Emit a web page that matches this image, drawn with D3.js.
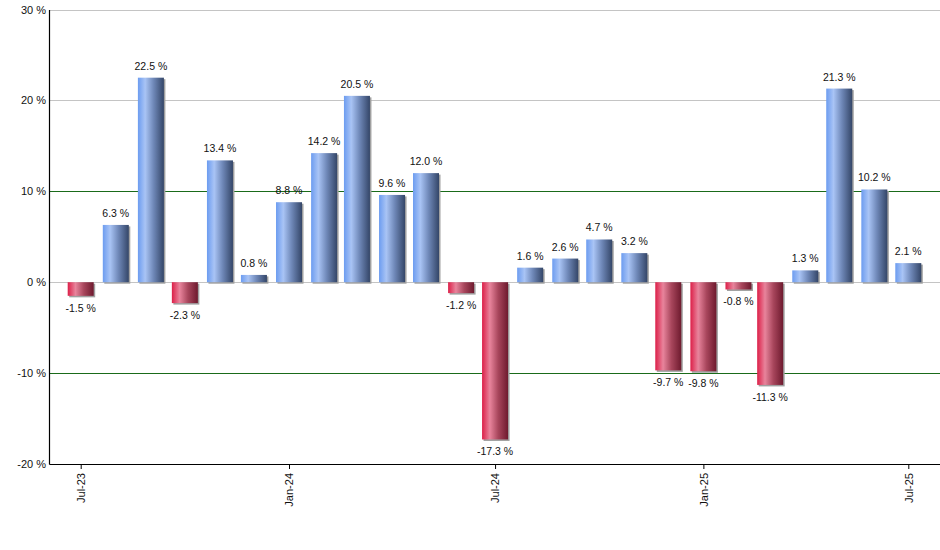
<!DOCTYPE html>
<html>
<head>
<meta charset="utf-8">
<script src="https://cdn.jsdelivr.net/npm/d3@7"></script>
<style>
  html, body { margin: 0; padding: 0; background: #fff; }
  svg { display: block; font-family: Arial, "Liberation Sans", sans-serif; }
</style>
</head>
<body>
<svg id="chart" width="940" height="550"></svg>
<script>
// ---- data ----
const months = ["2023-07","2023-08","2023-09","2023-10","2023-11","2023-12",
                "2024-01","2024-02","2024-03","2024-04","2024-05","2024-06",
                "2024-07","2024-08","2024-09","2024-10","2024-11","2024-12",
                "2025-01","2025-02","2025-03","2025-04","2025-05","2025-06","2025-07"];
const values = [-1.5, 6.3, 22.5, -2.3, 13.4, 0.8,
                8.8, 14.2, 20.5, 9.6, 12.0, -1.2,
                -17.3, 1.6, 2.6, 4.7, 3.2, -9.7,
                -9.8, -0.8, -11.3, 1.3, 21.3, 10.2, 2.1];
const xTickDates = ["2023-07","2024-01","2024-07","2025-01","2025-07"];
const xTickLabels = ["Jul-23","Jan-24","Jul-24","Jan-25","Jul-25"];
const yTicks = [-20, -10, 0, 10, 20, 30];

// ---- layout ----
const svg = d3.select("#chart");
const mLeft = 49, mRight = 940, mTop = 9.5, mBottom = 464;
const parse = d3.timeParse("%Y-%m");
const dates = months.map(parse);
const data = dates.map((d, i) => ({date: d, value: values[i]}));

const x = d3.scaleTime()
  .domain([d3.timeDay.offset(dates[0], -28), d3.timeDay.offset(dates[dates.length - 1], 28)])
  .range([mLeft, mRight]);
const y = d3.scaleLinear().domain([-20, 30]).range([mBottom, mTop]);

// ---- gradients ----
const defs = svg.append("defs");
function grad(id, stops) {
  const g = defs.append("linearGradient").attr("id", id)
    .attr("x1", "0").attr("x2", "1").attr("y1", "0").attr("y2", "0");
  stops.forEach(s => g.append("stop").attr("offset", s[0]).attr("stop-color", s[1]));
}
grad("gBlue", [[0, "#6c9cf0"], [0.28, "#a9c4f5"], [0.6, "#6f88b8"], [1, "#344668"]]);
grad("gRed", [[0, "#dc1f48"], [0.3, "#e8849c"], [0.62, "#a8465c"], [1, "#6e1a2e"]]);

// ---- grid lines ----
const gridColor = v => (v === 10 || v === -10) ? "#1a6b1a" : "#c4c4c4";
svg.append("g").selectAll("line")
  .data(yTicks.filter(v => v !== -20))
  .join("line")
  .attr("x1", mLeft).attr("x2", mRight)
  .attr("y1", d => Math.round(y(d)) + 0.5).attr("y2", d => Math.round(y(d)) + 0.5)
  .attr("stroke", gridColor).attr("stroke-width", 1);

// ---- bars ----
const bw = 26;
const bars = svg.append("g");
bars.selectAll("rect.shadow").data(data).join("rect")
  .attr("class", "shadow")
  .attr("x", d => x(d.date) - bw / 2 + 1.5)
  .attr("y", d => Math.min(y(d.value), y(0)) + 1.5)
  .attr("width", bw)
  .attr("height", d => Math.abs(y(d.value) - y(0)))
  .attr("fill", "#a0a0a0");
bars.selectAll("rect.bar").data(data).join("rect")
  .attr("class", "bar")
  .attr("x", d => x(d.date) - bw / 2)
  .attr("y", d => Math.min(y(d.value), y(0)))
  .attr("width", bw)
  .attr("height", d => Math.abs(y(d.value) - y(0)))
  .attr("fill", d => d.value >= 0 ? "url(#gBlue)" : "url(#gRed)");

// ---- value labels ----
svg.append("g").selectAll("text").data(data).join("text")
  .attr("x", d => x(d.date))
  .attr("y", d => d.value >= 0 ? y(d.value) - 8 : y(d.value) + 16)
  .attr("text-anchor", "middle")
  .attr("font-size", "10.5px")
  .attr("fill", "#111")
  .text(d => d.value.toFixed(1) + " %");

// ---- axes ----
const yAxis = d3.axisLeft(y).tickValues(yTicks).tickSize(0).tickPadding(3)
  .tickFormat(d => d + " %");
const gy = svg.append("g").attr("transform", `translate(${mLeft},0)`).call(yAxis);
gy.select(".domain").attr("stroke", "#000").attr("stroke-width", 1.2);
gy.selectAll("text").attr("font-size", "11px").attr("fill", "#111")
  .attr("font-family", "Arial, 'Liberation Sans', sans-serif");

const xAxis = d3.axisBottom(x)
  .tickValues(xTickDates.map(parse))
  .tickSize(5).tickSizeOuter(0)
  .tickFormat((d, i) => xTickLabels[i]);
const gx = svg.append("g").attr("transform", `translate(0,${mBottom})`).call(xAxis);
gx.select(".domain").attr("stroke", "#000").attr("stroke-width", 1.2);
gx.selectAll(".tick line").attr("stroke", "#000");
gx.selectAll("text")
  .attr("font-size", "11px").attr("fill", "#111")
  .attr("font-family", "Arial, 'Liberation Sans', sans-serif")
  .attr("text-anchor", "end")
  .attr("transform", "rotate(-90)")
  .attr("x", -9).attr("y", 0).attr("dy", "0.35em");
</script>
</body>
</html>
